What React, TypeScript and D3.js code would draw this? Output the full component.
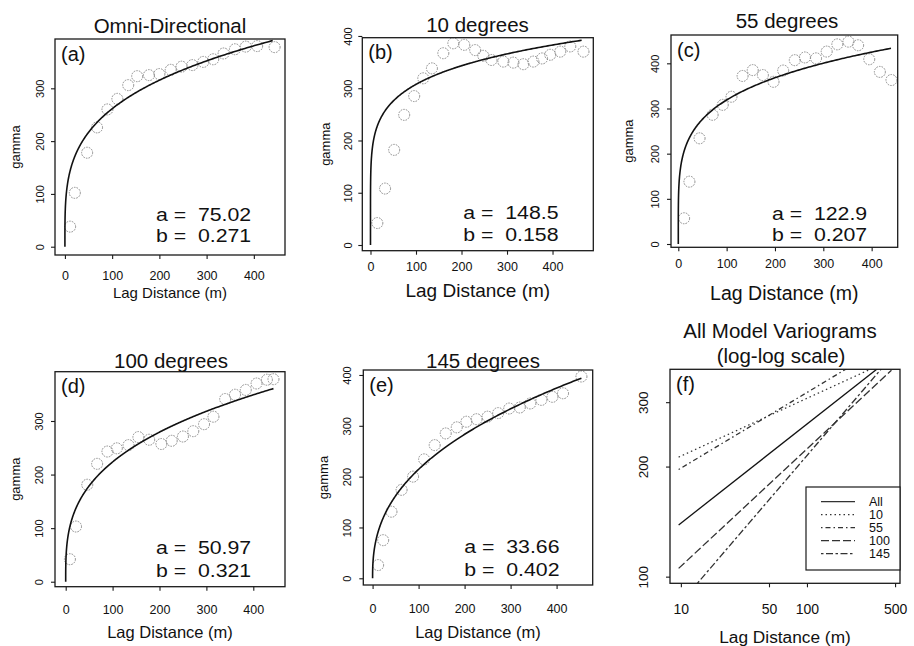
import React, { useEffect, useRef } from 'react';
import * as d3 from 'd3';

// fitted power model gamma = a * h^b, one per direction
const directions = ['All', '10', '55', '100', '145'];
const aParams = [75.02, 148.5, 122.9, 50.97, 33.66];
const bParams = [0.271, 0.158, 0.207, 0.321, 0.402];
const aLabels = ['75.02', '148.5', '122.9', '50.97', '33.66'];
const bLabels = ['0.271', '0.158', '0.207', '0.321', '0.402'];
const panelTitles = ['Omni-Directional', '10 degrees', '55 degrees', '100 degrees', '145 degrees'];
const panelTags = ['(a)', '(b)', '(c)', '(d)', '(e)', '(f)'];

// empirical semivariogram points
const lagOmni = [11, 21, 47, 68, 90, 111, 134, 153, 178, 200, 224, 247, 270, 293, 314, 336, 360, 383, 407, 444];
const gammaOmni = [38, 102, 178, 226, 260, 280, 306, 323, 325, 327, 335, 341, 344, 350, 355, 366, 374, 379, 380, 378];

const lag10 = [15, 32, 52, 74, 96, 116, 135, 160, 182, 206, 230, 248, 266, 292, 314, 336, 358, 377, 395, 417, 439, 468];
const gamma10 = [42, 108, 182, 249, 285, 319, 338, 367, 386, 383, 373, 362, 354, 351, 349, 346, 351, 357, 364, 370, 380, 370];

const lag55 = [12, 23, 44, 71, 92, 110, 133, 154, 175, 197, 217, 241, 262, 285, 307, 329, 352, 372, 395, 417, 441];
const gamma55 = [57, 138, 234, 286, 308, 326, 372, 385, 374, 359, 384, 407, 413, 411, 426, 442, 448, 440, 409, 381, 363];

const lag100 = [9, 22, 46, 67, 89, 109, 134, 155, 178, 204, 226, 250, 272, 295, 315, 340, 361, 384, 407, 429, 443];
const gamma100 = [42, 103, 181, 220, 243, 249, 255, 270, 265, 257, 263, 271, 281, 294, 308, 341, 349, 358, 370, 377, 378];

const lag145 = [12, 23, 41, 63, 88, 112, 135, 159, 183, 204, 226, 250, 273, 297, 320, 343, 367, 391, 414, 454];
const gamma145 = [26, 75, 131, 174, 200, 234, 262, 285, 297, 308, 313, 318, 325, 334, 336, 344, 351, 357, 364, 397];

const lags = [lagOmni, lag10, lag55, lag100, lag145];
const gammas = [gammaOmni, gamma10, gamma55, gamma100, gamma145];
const curveEnds = [440, 464, 440, 443, 454];

const xTicks = [0, 100, 200, 300, 400];
const yTicksList = [[0, 100, 200, 300], [0, 100, 200, 300, 400], [0, 100, 200, 300, 400], [0, 100, 200, 300], [0, 100, 200, 300, 400]];
const logXTicks = [10, 50, 100, 500];
const logYTicks = [100, 200, 300];
const logLagRange = [9.6, 468];

const lineDash = ['', '1.5,3', '1.5,3,5,3', '8,3', '2.5,2.5,7,2.5'];

const FONT = '"Liberation Sans", Arial, Helvetica, sans-serif';

// panel boxes (pixels) and axis extents
const layout = [
  { x0: 55, x1: 285, y0: 39, y1: 255, xd: [-21, 466], yd: [-15.7, 393.4], titleX: 170, titleY: 33, xTickBase: 280, xTitleBase: 298, xTitleFont: 15, yTitleX: 15, yTickX: 39.5, ab: [220.5, 241.5] },
  { x0: 362.3, x1: 593.3, y0: 37.7, y1: 250.7, xd: [-18, 489.6], yd: [-10.9, 396.7], titleX: 477.5, titleY: 32, xTickBase: 271, xTitleBase: 296.5, xTitleFont: 19, yTitleX: 325, yTickX: 348.3, ab: [219, 240.5] },
  { x0: 671, x1: 897.7, y0: 35, y1: 247.3, xd: [-15.1, 453.9], yd: [-7.3, 462.7], titleX: 787, titleY: 27.5, xTickBase: 268.5, xTitleBase: 300, xTitleFont: 19.5, yTitleX: 628.3, yTickX: 655, ab: [220, 240.5] },
  { x0: 55, x1: 285, y0: 371.7, y1: 586.7, xd: [-22.8, 467.6], yd: [-9.3, 392], titleX: 171, titleY: 368, xTickBase: 614.5, xTitleBase: 637.5, xTitleFont: 16.5, yTitleX: 15, yTickX: 39.3, ab: [554, 576.5] },
  { x0: 363.3, x1: 592.7, y0: 370, y1: 585, xd: [-20.2, 478.5], yd: [-13.2, 409.8], titleX: 483, titleY: 368, xTickBase: 613, xTitleBase: 637.5, xTitleFont: 16.5, yTitleX: 323.3, yTickX: 346.7, ab: [553, 576] },
];
const logPanel = { x0: 670, x1: 900, y0: 369.3, y1: 583.3, xd: [8.2, 547], yd: [95.9, 369] };

function App() {
  const ref = useRef<SVGSVGElement>(null);

  function drawBox(g: any, L: any) {
    g.append('rect')
      .attr('x', L.x0).attr('y', L.y0)
      .attr('width', L.x1 - L.x0).attr('height', L.y1 - L.y0)
      .attr('fill', 'none').attr('stroke', '#1a1a1a').attr('stroke-width', 1.3);
  }

  function styleXAxis(ax: any, base: number, size: number) {
    ax.select('.domain').remove();
    ax.selectAll('line').attr('stroke', '#1a1a1a').attr('stroke-width', 1.1);
    ax.selectAll('text')
      .attr('y', base).attr('dy', null)
      .attr('font-size', size).attr('font-family', FONT).attr('fill', '#111');
  }

  function styleYAxis(ax: any, off: number, size: number) {
    ax.select('.domain').remove();
    ax.selectAll('line').attr('stroke', '#1a1a1a').attr('stroke-width', 1.1);
    ax.selectAll('text')
      .attr('x', 0).attr('dy', null)
      .attr('text-anchor', 'middle')
      .attr('dominant-baseline', 'central')
      .attr('transform', `translate(${-off},0) rotate(-90)`)
      .attr('font-size', size).attr('font-family', FONT).attr('fill', '#111');
  }

  function drawPanel(svg: any, i: number) {
    const L = layout[i];
    const x = d3.scaleLinear().domain(L.xd).range([L.x0, L.x1]);
    const y = d3.scaleLinear().domain(L.yd).range([L.y1, L.y0]);
    const g = svg.append('g');

    const clipId = `clip${i}`;
    svg.append('clipPath').attr('id', clipId)
      .append('rect').attr('x', L.x0).attr('y', L.y0)
      .attr('width', L.x1 - L.x0).attr('height', L.y1 - L.y0);

    const plot = g.append('g').attr('clip-path', `url(#${clipId})`);

    plot.selectAll('circle')
      .data(d3.zip(lags[i], gammas[i]))
      .join('circle')
      .attr('cx', (d: number[]) => x(d[0]))
      .attr('cy', (d: number[]) => y(d[1]))
      .attr('r', 5.5)
      .attr('fill', 'none')
      .attr('stroke', '#8a8a8a')
      .attr('stroke-width', 1)
      .attr('stroke-dasharray', '1.6,1.1');

    const hs = d3.range(0, 301).map((k) => curveEnds[i] * Math.pow(k / 300, 3));
    const line = d3.line<number>()
      .x((h) => x(h))
      .y((h) => y(aParams[i] * Math.pow(h, bParams[i])));
    plot.append('path')
      .attr('d', line(hs))
      .attr('fill', 'none')
      .attr('stroke', '#111')
      .attr('stroke-width', 1.6);

    drawBox(g, L);

    const ax = g.append('g').attr('transform', `translate(0,${L.y1})`)
      .call(d3.axisBottom(x).tickValues(xTicks).tickSize(4).tickFormat(d3.format('d')));
    styleXAxis(ax, L.xTickBase - L.y1, 12.5);

    const ay = g.append('g').attr('transform', `translate(${L.x0},0)`)
      .call(d3.axisLeft(y).tickValues(yTicksList[i]).tickSize(4).tickFormat(d3.format('d')));
    styleYAxis(ay, L.x0 - L.yTickX, 11);

    g.append('text')
      .attr('x', L.titleX).attr('y', L.titleY)
      .attr('text-anchor', 'middle')
      .attr('font-size', 20.5).attr('font-family', FONT).attr('fill', '#111')
      .text(panelTitles[i]);

    g.append('text')
      .attr('x', L.x0 + 6).attr('y', L.y0 + 21.5)
      .attr('font-size', 20).attr('font-family', FONT).attr('fill', '#111')
      .text(panelTags[i]);

    g.append('text')
      .attr('x', (L.x0 + L.x1) / 2).attr('y', L.xTitleBase)
      .attr('text-anchor', 'middle')
      .attr('font-size', L.xTitleFont).attr('font-family', FONT).attr('fill', '#111')
      .text('Lag Distance (m)');

    g.append('text')
      .attr('transform', `translate(${L.yTitleX},${(L.y0 + L.y1) / 2}) rotate(-90)`)
      .attr('text-anchor', 'middle')
      .attr('dominant-baseline', 'central')
      .attr('font-size', 13).attr('font-family', FONT).attr('fill', '#111')
      .text('gamma');

    // model parameters, slightly widened like the scanned original
    const params = [`a =  ${aLabels[i]}`, `b =  ${bLabels[i]}`];
    params.forEach((t, k) => {
      g.append('text')
        .attr('transform', `translate(${L.x0 + 101},${L.ab[k]}) scale(1.15,1)`)
        .attr('font-size', 18.5).attr('font-family', FONT).attr('fill', '#111')
        .style('white-space', 'pre')
        .text(t);
    });
  }

  function drawLogPanel(svg: any) {
    const L = logPanel;
    const x = d3.scaleLog().domain(L.xd).range([L.x0, L.x1]);
    const y = d3.scaleLog().domain(L.yd).range([L.y1, L.y0]);
    const g = svg.append('g');

    svg.append('clipPath').attr('id', 'clipLog')
      .append('rect').attr('x', L.x0).attr('y', L.y0)
      .attr('width', L.x1 - L.x0).attr('height', L.y1 - L.y0);
    const plot = g.append('g').attr('clip-path', 'url(#clipLog)');

    const line = d3.line<number[]>().x((d) => x(d[0])).y((d) => y(d[1]));
    directions.forEach((dir, k) => {
      const pts = logLagRange.map((h) => [h, aParams[k] * Math.pow(h, bParams[k])]);
      plot.append('path')
        .attr('d', line(pts))
        .attr('fill', 'none')
        .attr('stroke', k === 0 ? '#111' : '#333')
        .attr('stroke-width', 1.3)
        .attr('stroke-dasharray', lineDash[k] || null);
    });

    drawBox(g, L);

    const ax = g.append('g').attr('transform', `translate(0,${L.y1})`)
      .call(d3.axisBottom(x).tickValues(logXTicks).tickSize(4).tickFormat(d3.format('d')));
    styleXAxis(ax, 614.5 - L.y1, 14);

    const ay = g.append('g').attr('transform', `translate(${L.x0},0)`)
      .call(d3.axisLeft(y).tickValues(logYTicks).tickSize(4).tickFormat(d3.format('d')));
    styleYAxis(ay, L.x0 - 643.3, 13.5);

    g.append('text')
      .attr('x', 780).attr('y', 338.3).attr('text-anchor', 'middle')
      .attr('font-size', 20.5).attr('font-family', FONT).attr('fill', '#111')
      .text('All Model Variograms');
    g.append('text')
      .attr('x', 781).attr('y', 363.3).attr('text-anchor', 'middle')
      .attr('font-size', 20.5).attr('font-family', FONT).attr('fill', '#111')
      .text('(log-log scale)');
    g.append('text')
      .attr('x', L.x0 + 6).attr('y', L.y0 + 21.5)
      .attr('font-size', 20).attr('font-family', FONT).attr('fill', '#111')
      .text(panelTags[5]);
    g.append('text')
      .attr('x', (L.x0 + L.x1) / 2).attr('y', 642.5).attr('text-anchor', 'middle')
      .attr('font-size', 17.3).attr('font-family', FONT).attr('fill', '#111')
      .text('Lag Distance (m)');

    // legend
    const lg = g.append('g');
    lg.append('rect')
      .attr('x', 806).attr('y', 487).attr('width', L.x1 - 806).attr('height', 83)
      .attr('fill', 'white').attr('stroke', '#1a1a1a').attr('stroke-width', 1.2);
    directions.forEach((dir, k) => {
      const ly = 501.7 + k * 13;
      lg.append('line')
        .attr('x1', 821).attr('x2', 855).attr('y1', ly).attr('y2', ly)
        .attr('stroke', '#333').attr('stroke-width', 1.2)
        .attr('stroke-dasharray', lineDash[k] || null);
      lg.append('text')
        .attr('x', 869).attr('y', ly).attr('dominant-baseline', 'central')
        .attr('font-size', 12.5).attr('font-family', FONT).attr('fill', '#111')
        .text(dir);
    });
  }

  useEffect(() => {
    const svg = d3.select(ref.current);
    svg.selectAll('*').remove();
    svg.append('rect').attr('width', 914).attr('height', 646).attr('fill', 'white');
    for (let i = 0; i < layout.length; i++) drawPanel(svg, i);
    drawLogPanel(svg);
  }, []);

  return (
    <svg
      ref={ref}
      width={914}
      height={646}
      style={{ position: 'absolute', left: 0, top: 0, display: 'block' }}
    />
  );
}

export default App;
